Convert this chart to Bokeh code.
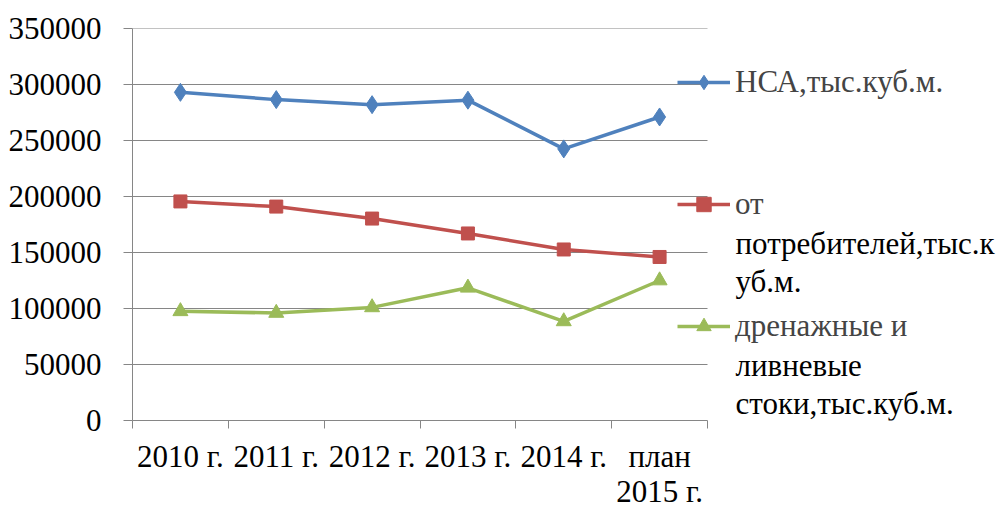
from bokeh.plotting import figure
from bokeh.models import (Range1d, FixedTicker, Legend, LegendItem, Label)
from bokeh.embed import file_html
from bokeh.resources import INLINE

categories = ["2010 г.", "2011 г.", "2012 г.", "2013 г.", "2014 г.", "план\n2015 г."]
nsa = [293000, 286500, 282000, 286000, 242500, 271000]
consumers = [195600, 191000, 180300, 167000, 152700, 146000]
drainage = [97500, 96000, 101000, 118500, 88500, 125000]
series_names = ["НСА,тыс.куб.м.", "от\nпотребителей,тыс.к\nуб.м.", "дренажные и\nливневые\nстоки,тыс.куб.м."]
y_ticks = [0, 50000, 100000, 150000, 200000, 250000, 300000, 350000]

FONT = "'Liberation Serif', 'Times New Roman', serif"
FS = "31px"
GRAY = "#868686"
BLUE, RED, GREEN = "#4F81BD", "#C0504D", "#9BBB59"

W, H = 1000, 511
FL, FT, FB = 132, 28, 424
AXR = 707          # right end of the category axis (px)
FR = 1000          # frame extends to host the legend
ncat = len(categories)
x_end = ncat * (FR - FL) / (AXR - FL)

xs = [i + 0.5 for i in range(ncat)]

p = figure(width=W, height=H, output_backend="svg", toolbar_location=None,
           x_range=Range1d(0, x_end), y_range=Range1d(0, 350000),
           min_border_left=FL, min_border_top=FT,
           min_border_right=W - FR, min_border_bottom=H - FB,
           tools="")
p.outline_line_color = None
p.background_fill_color = "white"
p.border_fill_color = "white"

# x axis
p.xaxis.ticker = FixedTicker(ticks=xs, minor_ticks=list(range(ncat + 1)))
p.xaxis.bounds = (0, ncat)
p.xaxis.major_label_overrides = {x: c for x, c in zip(xs, categories)}
p.xaxis.major_tick_out = 0
p.xaxis.major_tick_in = 0
p.xaxis.minor_tick_out = 8
p.xaxis.minor_tick_in = 0
p.xaxis.minor_tick_line_color = GRAY
p.xaxis.axis_line_color = GRAY
p.xaxis.major_label_standoff = 10
p.xaxis.major_label_text_font = FONT
p.xaxis.major_label_text_font_size = FS
p.xaxis.major_label_text_color = "black"
p.xaxis.major_label_text_line_height = 1.0

# y axis
p.yaxis.ticker = FixedTicker(ticks=y_ticks)
p.yaxis.formatter.use_scientific = False
p.yaxis.major_tick_out = 9
p.yaxis.major_tick_in = 0
p.yaxis.minor_tick_out = 0
p.yaxis.minor_tick_in = 0
p.yaxis.major_tick_line_color = GRAY
p.yaxis.axis_line_color = GRAY
p.yaxis.major_label_standoff = 22
p.yaxis.major_label_text_font = FONT
p.yaxis.major_label_text_font_size = FS
p.yaxis.major_label_text_color = "black"

p.xgrid.visible = False
p.ygrid.visible = False
# horizontal gridlines only across the category area
gy = y_ticks[1:]
p.segment(x0=[0] * len(gy), x1=[ncat] * len(gy), y0=gy, y1=gy,
          line_color=GRAY, line_width=1)

LW = 3.5
l1 = p.line(xs, nsa, line_color=BLUE, line_width=LW)
m1 = p.scatter(xs, nsa, marker="diamond", size=18, fill_color=BLUE, line_color=BLUE)
l2 = p.line(xs, consumers, line_color=RED, line_width=LW)
m2 = p.scatter(xs, consumers, marker="square", size=13, fill_color=RED, line_color=RED)
l3 = p.line(xs, drainage, line_color=GREEN, line_width=LW)
m3 = p.scatter(xs, drainage, marker="triangle", size=15, fill_color=GREEN, line_color=GREEN)

IH = 36  # legend item height
leg_x = 677 - FL
text_x = 735 - FL
first_line_y = [86, 208, 330]
line_step = 38.5
renderers = [[l1, m1], [l2, m2], [l3, m3]]
for name, rs, cy in zip(series_names, renderers, first_line_y):
    lines = name.split("\n")
    vy = FB - (cy + IH / 2)
    leg = Legend(items=[LegendItem(label=lines[0], renderers=rs)],
                 location=(leg_x, vy), orientation="vertical",
                 glyph_width=53, glyph_height=IH, label_height=IH,
                 label_standoff=5, padding=0, margin=0, spacing=0,
                 label_text_font=FONT, label_text_font_size=FS,
                 label_text_line_height=1.0, label_text_baseline="middle",
                 border_line_color=None, background_fill_alpha=0)
    p.add_layout(leg)
    for k, txt in enumerate(lines[1:], start=1):
        p.add_layout(Label(x=text_x, y=FB - (cy + k * line_step),
                           x_units="screen", y_units="screen", text=txt,
                           text_font=FONT, text_font_size=FS,
                           text_baseline="middle", text_align="left",
                           text_color="black"))

open("out.html", "w").write(file_html(p, INLINE))
